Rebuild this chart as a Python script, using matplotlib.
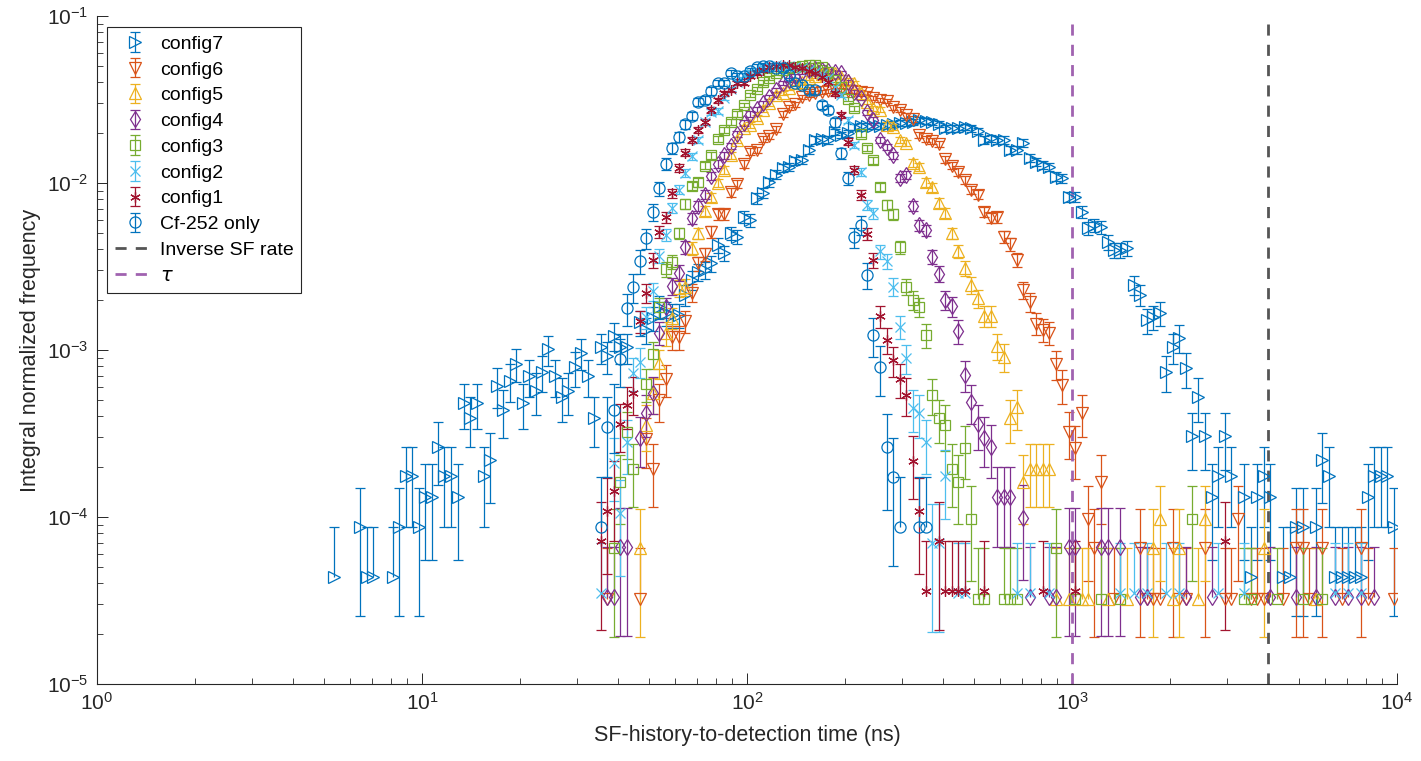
import matplotlib.pyplot as plt
import numpy as np

plt.rcParams['font.family'] = ['Liberation Sans', 'DejaVu Sans']

# (time in ns, integral normalized frequency), one pair per bin
config7 = [
    (5.37, 4.37e-5), (6.46, 8.74e-5), (6.76, 4.37e-5), (7.08, 4.37e-5), (8.13, 4.37e-5),
    (8.51, 8.74e-5), (8.91, 1.75e-4), (9.33, 1.75e-4), (9.77, 8.74e-5), (10.2, 1.31e-4),
    (10.7, 1.31e-4), (11.2, 2.62e-4), (11.7, 1.75e-4), (12.3, 1.75e-4), (12.9, 1.31e-4),
    (13.5, 4.81e-4), (14.1, 3.93e-4), (14.8, 4.81e-4), (15.5, 1.75e-4), (16.2, 2.19e-4),
    (17.0, 6.12e-4), (17.8, 4.37e-4), (18.6, 6.56e-4), (19.5, 8.3e-4), (20.4, 4.81e-4),
    (21.4, 7.0e-4), (22.4, 5.68e-4), (23.4, 7.43e-4), (24.5, 1.01e-3), (25.7, 7.0e-4),
    (26.9, 5.24e-4), (28.2, 5.68e-4), (29.5, 7.87e-4), (30.9, 9.6e-4), (32.4, 7.0e-4),
    (33.9, 3.93e-4), (35.5, 1.04e-3), (37.2, 9.2e-4), (38.9, 1.22e-3), (40.7, 1.04e-3),
    (42.7, 1.04e-3), (46.8, 1.47e-3), (49.0, 1.32e-3), (51.3, 1.56e-3), (53.7, 1.81e-3),
    (56.2, 1.67e-3), (58.9, 1.62e-3), (61.7, 1.62e-3), (64.6, 2.13e-3), (67.6, 2.62e-3),
    (70.8, 2.93e-3), (74.1, 3.01e-3), (77.6, 3.3e-3), (81.3, 4.25e-3), (85.1, 3.81e-3),
    (89.1, 5.02e-3), (93.3, 4.75e-3), (97.7, 6.25e-3), (102, 6.0e-3), (107, 8.13e-3),
    (112, 8.7e-3), (117, 1.01e-2), (123, 1.12e-2), (129, 1.23e-2), (135, 1.25e-2),
    (141, 1.36e-2), (148, 1.37e-2), (155, 1.58e-2), (162, 1.81e-2), (170, 1.83e-2),
    (178, 1.81e-2), (186, 2.02e-2), (195, 1.94e-2), (204, 1.99e-2), (214, 2.16e-2),
    (224, 2.19e-2), (234, 2.19e-2), (245, 2.19e-2), (257, 2.19e-2), (269, 2.22e-2),
    (282, 2.25e-2), (295, 2.29e-2), (309, 2.29e-2), (324, 2.32e-2), (339, 2.38e-2),
    (355, 2.35e-2), (372, 2.32e-2), (389, 2.25e-2), (407, 2.13e-2), (427, 2.13e-2),
    (447, 2.13e-2), (468, 2.16e-2), (490, 2.13e-2), (513, 2.05e-2), (537, 1.81e-2),
    (562, 1.86e-2), (589, 1.81e-2), (617, 1.81e-2), (646, 1.58e-2), (676, 1.58e-2),
    (708, 1.74e-2), (741, 1.41e-2), (776, 1.34e-2), (813, 1.28e-2), (851, 1.25e-2),
    (891, 1.09e-2), (933, 1.07e-2), (977, 8.25e-3), (1020, 8.25e-3), (1070, 6.7e-3),
    (1120, 5.38e-3), (1170, 5.61e-3), (1230, 5.46e-3), (1290, 4.43e-3), (1350, 3.97e-3),
    (1410, 3.97e-3), (1480, 4.08e-3), (1550, 2.45e-3), (1620, 2.13e-3), (1700, 1.51e-3),
    (1780, 1.58e-3), (1860, 1.67e-3), (1950, 7.38e-4), (2040, 1.04e-3), (2140, 1.18e-3),
    (2240, 7.8e-4), (2340, 3.06e-4), (2450, 5.24e-4), (2570, 3.06e-4), (2690, 1.31e-4),
    (2820, 1.75e-4), (2950, 3.06e-4), (3090, 1.75e-4), (3390, 1.31e-4), (3550, 4.37e-5),
    (3720, 1.31e-4), (3890, 1.75e-4), (4070, 1.31e-4), (4470, 4.37e-5), (4680, 4.37e-5),
    (4900, 8.74e-5), (5130, 8.74e-5), (5620, 8.74e-5), (5890, 2.19e-4), (6170, 1.75e-4),
    (6460, 4.37e-5), (6760, 4.37e-5), (7080, 4.37e-5), (7410, 4.37e-5), (7760, 4.37e-5),
    (8130, 1.31e-4), (8510, 1.75e-4), (8910, 1.75e-4), (9330, 1.75e-4), (9770, 8.74e-5),
]

config6 = [
    (37.2, 3.25e-5), (46.8, 3.25e-5), (49.0, 2.93e-4), (51.3, 1.95e-4), (53.7, 5.0e-4),
    (56.2, 6.7e-4), (58.9, 1.2e-3), (61.7, 1.2e-3), (64.6, 1.49e-3), (67.6, 2.2e-3),
    (70.8, 3.3e-3), (74.1, 3.75e-3), (77.6, 5.1e-3), (81.3, 6.5e-3), (85.1, 6.5e-3),
    (89.1, 8.8e-3), (93.3, 9.9e-3), (97.7, 1.3e-2), (102, 1.54e-2), (107, 1.58e-2),
    (112, 1.83e-2), (117, 1.91e-2), (123, 2.1e-2), (129, 2.59e-2), (135, 2.85e-2),
    (141, 2.96e-2), (148, 3.27e-2), (155, 3.36e-2), (162, 3.45e-2), (170, 3.5e-2),
    (178, 3.55e-2), (186, 3.6e-2), (195, 3.6e-2), (204, 3.55e-2), (214, 3.55e-2),
    (224, 3.5e-2), (234, 3.45e-2), (245, 3.23e-2), (257, 3.14e-2), (269, 3.1e-2),
    (282, 2.85e-2), (295, 2.74e-2), (309, 2.55e-2), (324, 2.42e-2), (339, 1.94e-2),
    (355, 1.83e-2), (372, 1.78e-2), (389, 1.71e-2), (407, 1.39e-2), (427, 1.27e-2),
    (447, 1.16e-2), (468, 1.04e-2), (490, 9.1e-3), (513, 8.5e-3), (537, 6.7e-3),
    (562, 6.2e-3), (589, 6.25e-3), (617, 4.75e-3), (646, 4.3e-3), (676, 3.46e-3),
    (708, 2.29e-3), (741, 1.94e-3), (776, 1.44e-3), (813, 1.32e-3), (851, 1.27e-3),
    (891, 8.2e-4), (933, 6.2e-4), (977, 3.25e-4), (1020, 2.6e-4), (1070, 4.2e-4),
    (1120, 9.75e-5), (1170, 6.5e-5), (1230, 1.63e-4), (1350, 3.25e-5), (1620, 6.5e-5),
    (1700, 3.25e-5), (1780, 3.25e-5), (1860, 3.25e-5), (2040, 6.5e-5), (2140, 3.25e-5),
    (2240, 3.25e-5), (2570, 6.5e-5), (2950, 3.25e-5), (3090, 3.25e-5), (3240, 9.75e-5),
    (3550, 3.25e-5), (3720, 3.25e-5), (3890, 3.25e-5), (4470, 3.25e-5), (4900, 6.5e-5),
    (5130, 6.5e-5), (5370, 3.25e-5), (5890, 6.5e-5), (6760, 3.25e-5), (7760, 6.5e-5),
    (8130, 3.25e-5), (9770, 3.25e-5),
]

config5 = [
    (46.8, 6.5e-5), (49.0, 3.58e-4), (51.3, 5.5e-4), (53.7, 8.4e-4), (56.2, 1.26e-3),
    (58.9, 1.56e-3), (61.7, 2.35e-3), (64.6, 2.38e-3), (67.6, 4.08e-3), (70.8, 5.0e-3),
    (74.1, 6.8e-3), (77.6, 8.25e-3), (81.3, 1.0e-2), (85.1, 1.2e-2), (89.1, 1.47e-2),
    (93.3, 1.81e-2), (97.7, 2.13e-2), (102, 2.22e-2), (107, 2.45e-2), (112, 2.74e-2),
    (117, 3.0e-2), (123, 3.36e-2), (129, 3.45e-2), (135, 3.7e-2), (141, 3.97e-2),
    (148, 4.0e-2), (155, 4.25e-2), (162, 4.37e-2), (170, 4.5e-2), (178, 4.56e-2),
    (186, 4.56e-2), (195, 4.3e-2), (204, 4.13e-2), (214, 3.97e-2), (224, 3.45e-2),
    (234, 3.06e-2), (245, 2.8e-2), (257, 2.74e-2), (269, 2.22e-2), (282, 2.16e-2),
    (295, 1.81e-2), (309, 1.74e-2), (324, 1.32e-2), (339, 1.25e-2), (355, 1.01e-2),
    (372, 9.4e-3), (389, 7.6e-3), (407, 6.6e-3), (427, 5.0e-3), (447, 3.9e-3),
    (468, 3.1e-3), (490, 2.45e-3), (513, 2.04e-3), (537, 1.6e-3), (562, 1.6e-3),
    (589, 1.06e-3), (617, 9.1e-4), (646, 3.9e-4), (676, 4.55e-4), (708, 1.63e-4),
    (741, 1.95e-4), (776, 1.95e-4), (813, 1.95e-4), (851, 1.95e-4), (891, 3.25e-5),
    (977, 3.25e-5), (1070, 3.25e-5), (1120, 3.25e-5), (1290, 3.25e-5), (1480, 3.25e-5),
    (1780, 6.5e-5), (1860, 9.75e-5), (2040, 3.25e-5), (2140, 6.5e-5), (2450, 3.25e-5),
    (2570, 9.75e-5), (3890, 6.5e-5), (5620, 3.25e-5),
]

config4 = [
    (37.2, 3.3e-5), (38.9, 3.3e-5), (40.7, 6.6e-5), (42.7, 6.6e-5), (46.8, 2.97e-4),
    (49.0, 4.2e-4), (51.3, 5.5e-4), (53.7, 1.27e-3), (56.2, 1.8e-3), (58.9, 2.42e-3),
    (61.7, 2.9e-3), (64.6, 4.15e-3), (67.6, 6.17e-3), (70.8, 7.3e-3), (74.1, 8.5e-3),
    (77.6, 1.1e-2), (81.3, 1.3e-2), (85.1, 1.47e-2), (89.1, 1.67e-2), (93.3, 1.97e-2),
    (97.7, 2.29e-2), (102, 2.59e-2), (107, 2.77e-2), (112, 3.0e-2), (117, 3.27e-2),
    (123, 3.6e-2), (129, 3.97e-2), (135, 4.13e-2), (141, 4.37e-2), (148, 4.62e-2),
    (155, 4.75e-2), (162, 4.8e-2), (170, 4.75e-2), (178, 4.68e-2), (186, 4.62e-2),
    (195, 4.56e-2), (204, 4.0e-2), (214, 3.5e-2), (224, 3.23e-2), (234, 2.66e-2),
    (245, 2.38e-2), (257, 1.81e-2), (269, 1.64e-2), (282, 1.47e-2), (295, 1.07e-2),
    (309, 1.12e-2), (324, 7.3e-3), (339, 5.6e-3), (355, 5.2e-3), (372, 3.6e-3),
    (389, 2.87e-3), (407, 2.0e-3), (427, 1.83e-3), (447, 1.3e-3), (468, 7.1e-4),
    (490, 4.9e-4), (513, 3.6e-4), (537, 2.97e-4), (562, 2.64e-4), (589, 1.32e-4),
    (617, 1.32e-4), (646, 1.32e-4), (708, 9.9e-5), (741, 3.3e-5), (851, 3.3e-5),
    (891, 3.3e-5), (977, 6.6e-5), (1020, 6.6e-5), (1230, 6.6e-5), (1290, 6.6e-5),
    (1410, 6.6e-5), (1620, 3.3e-5), (1700, 3.3e-5), (2240, 3.3e-5), (2690, 3.3e-5),
    (4070, 3.3e-5), (4900, 3.3e-5), (5620, 3.3e-5), (6460, 3.3e-5), (7080, 3.3e-5),
    (7760, 3.3e-5), (8510, 3.3e-5),
]

config3 = [
    (38.9, 6.5e-5), (40.7, 1.63e-4), (42.7, 3.25e-4), (44.7, 1.95e-4), (49.0, 6.3e-4),
    (51.3, 9.4e-4), (53.7, 1.8e-3), (56.2, 3.05e-3), (58.9, 3.37e-3), (61.7, 5.0e-3),
    (64.6, 7.5e-3), (67.6, 9.6e-3), (70.8, 1.01e-2), (74.1, 1.27e-2), (77.6, 1.47e-2),
    (81.3, 1.83e-2), (85.1, 2.08e-2), (89.1, 2.32e-2), (93.3, 2.59e-2), (97.7, 2.93e-2),
    (102, 3.36e-2), (107, 3.65e-2), (112, 4.0e-2), (117, 4.25e-2), (123, 4.56e-2),
    (129, 4.75e-2), (135, 4.88e-2), (141, 4.95e-2), (148, 5.0e-2), (155, 5.1e-2),
    (162, 5.1e-2), (170, 4.95e-2), (178, 4.62e-2), (186, 4.13e-2), (195, 3.75e-2),
    (204, 3.18e-2), (214, 2.8e-2), (224, 1.97e-2), (234, 1.62e-2), (245, 1.37e-2),
    (257, 9.5e-3), (269, 7.4e-3), (282, 6.5e-3), (295, 4.15e-3), (309, 2.4e-3),
    (324, 2.0e-3), (339, 1.81e-3), (355, 1.23e-3), (372, 5.4e-4), (389, 3.9e-4),
    (407, 3.58e-4), (427, 1.95e-4), (447, 1.63e-4), (468, 2.6e-4), (490, 9.75e-5),
    (513, 3.25e-5), (537, 3.25e-5), (617, 3.25e-5), (646, 3.25e-5), (676, 3.25e-5),
    (891, 6.5e-5), (1020, 3.25e-5), (1230, 3.25e-5), (1410, 3.25e-5), (2340, 9.75e-5),
    (3390, 3.25e-5), (3550, 3.25e-5), (4270, 3.25e-5), (5130, 3.25e-5), (5890, 3.25e-5),
]

config2 = [
    (35.5, 3.5e-5), (38.9, 2.1e-4), (40.7, 1.05e-4), (42.7, 2.8e-4), (44.7, 7.3e-4),
    (46.8, 8.5e-4), (49.0, 1.58e-3), (51.3, 2.25e-3), (53.7, 3.66e-3), (56.2, 4.9e-3),
    (58.9, 7.1e-3), (61.7, 9.1e-3), (64.6, 1.15e-2), (67.6, 1.45e-2), (70.8, 1.81e-2),
    (74.1, 2.32e-2), (77.6, 2.66e-2), (81.3, 2.7e-2), (85.1, 3.23e-2), (89.1, 3.65e-2),
    (93.3, 4.0e-2), (97.7, 4.43e-2), (102, 4.62e-2), (107, 4.75e-2), (112, 4.88e-2),
    (117, 5.0e-2), (123, 5.1e-2), (129, 5.0e-2), (135, 5.0e-2), (141, 4.95e-2),
    (148, 4.88e-2), (155, 4.75e-2), (162, 4.62e-2), (170, 4.5e-2), (178, 4.25e-2),
    (186, 3.75e-2), (195, 3.36e-2), (204, 2.38e-2), (214, 1.69e-2), (224, 1.17e-2),
    (234, 7.4e-3), (245, 6.6e-3), (257, 3.9e-3), (269, 3.4e-3), (282, 2.4e-3),
    (295, 1.38e-3), (309, 8.9e-4), (324, 4.5e-4), (339, 4.2e-4), (355, 2.8e-4),
    (372, 7.0e-5), (389, 7.0e-5), (407, 1.75e-4), (447, 3.5e-5), (468, 3.5e-5),
    (676, 3.5e-5), (741, 3.5e-5), (851, 3.5e-5), (1410, 3.5e-5), (1550, 3.5e-5),
    (1700, 3.5e-5), (1950, 3.5e-5), (2140, 3.5e-5), (2820, 3.5e-5), (3390, 3.5e-5),
    (6460, 3.5e-5), (7080, 3.5e-5), (7760, 3.5e-5),
]

config1 = [
    (35.5, 7.2e-5), (37.2, 1.08e-4), (38.9, 1.44e-4), (40.7, 3.6e-4), (42.7, 4.68e-4),
    (44.7, 5.5e-4), (46.8, 1.49e-3), (49.0, 2.2e-3), (51.3, 3.46e-3), (53.7, 5.1e-3),
    (56.2, 6.25e-3), (58.9, 8.7e-3), (61.7, 1.23e-2), (64.6, 1.52e-2), (67.6, 1.81e-2),
    (70.8, 2.08e-2), (74.1, 2.32e-2), (77.6, 2.74e-2), (81.3, 3.14e-2), (85.1, 3.45e-2),
    (89.1, 3.6e-2), (93.3, 3.97e-2), (97.7, 3.97e-2), (102, 4.37e-2), (107, 4.56e-2),
    (112, 4.75e-2), (117, 4.95e-2), (123, 5.0e-2), (129, 5.1e-2), (135, 5.1e-2),
    (141, 4.95e-2), (148, 4.88e-2), (155, 4.68e-2), (162, 4.56e-2), (170, 4.3e-2),
    (178, 4.0e-2), (186, 3.45e-2), (195, 2.55e-2), (204, 1.77e-2), (214, 1.2e-2),
    (224, 8.5e-3), (234, 4.96e-3), (245, 3.46e-3), (257, 1.6e-3), (269, 1.15e-3),
    (282, 8.7e-4), (295, 6.7e-4), (309, 5.4e-4), (324, 2.16e-4), (339, 1.08e-4),
    (355, 3.6e-5), (389, 7.2e-5), (407, 3.6e-5), (427, 3.6e-5), (447, 3.6e-5),
    (468, 3.6e-5), (537, 3.6e-5), (813, 3.6e-5), (1020, 3.6e-5), (2950, 7.2e-5),
]

cf252 = [
    (35.5, 8.7e-5), (37.2, 3.48e-4), (38.9, 4.35e-4), (40.7, 8.8e-4), (42.7, 1.78e-3),
    (44.7, 2.38e-3), (46.8, 3.4e-3), (49.0, 4.66e-3), (51.3, 6.7e-3), (53.7, 9.3e-3),
    (56.2, 1.3e-2), (58.9, 1.62e-2), (61.7, 1.88e-2), (64.6, 2.25e-2), (67.6, 2.52e-2),
    (70.8, 3.06e-2), (74.1, 3.14e-2), (77.6, 3.56e-2), (81.3, 3.97e-2), (85.1, 3.97e-2),
    (89.1, 4.56e-2), (93.3, 4.37e-2), (97.7, 4.37e-2), (102, 4.68e-2), (107, 4.95e-2),
    (112, 5.0e-2), (117, 5.0e-2), (123, 4.9e-2), (129, 4.88e-2), (135, 4.43e-2),
    (141, 3.97e-2), (148, 3.86e-2), (155, 3.6e-2), (162, 3.6e-2), (170, 2.93e-2),
    (178, 2.74e-2), (186, 2.32e-2), (195, 1.51e-2), (204, 1.07e-2), (214, 4.75e-3),
    (224, 5.61e-3), (234, 2.81e-3), (245, 1.23e-3), (257, 7.9e-4), (269, 2.61e-4),
    (282, 1.74e-4), (295, 8.7e-5), (339, 8.7e-5), (355, 8.7e-5),
]

# value of a single count in each histogram (lowest occupied level)
unit_config7 = 4.37e-5
unit_config6 = 3.25e-5
unit_config5 = 3.25e-5
unit_config4 = 3.3e-5
unit_config3 = 3.25e-5
unit_config2 = 3.5e-5
unit_config1 = 3.6e-5
unit_cf252 = 8.7e-5

tau_ns = 1000
inverse_sf_rate_ns = 4000

fig = plt.figure(figsize=(14.21, 7.61), dpi=100)
ax = fig.add_axes([97 / 1421, 1 - 684 / 761, 1300 / 1421, 668 / 761])


def draw(data, unit, color, marker, ms, label):
    t = np.array([p[0] for p in data])
    y = np.array([p[1] for p in data])
    sigma = np.sqrt(y * unit)  # Poisson error of the counts in the bin
    lower = np.where(y > 1.5 * unit, sigma, 0.0)
    eb = ax.errorbar(t, y, yerr=[lower, sigma], fmt='', marker=marker, ms=ms, mfc='none',
                     mec=color, mew=0.9, color=color, ecolor=color, elinewidth=0.9,
                     capsize=3.8, capthick=0.9, linestyle='none', label=label)
    # single counts have no lower bar on a log axis
    lo_cap = eb.lines[1][0]
    xs, ys = lo_cap.get_data()
    keep = lower > 0
    lo_cap.set_data(np.asarray(xs)[keep], np.asarray(ys)[keep])
    return eb


handles = [
    draw(config7, unit_config7, '#0072BD', '>', 8, 'config7'),
    draw(config6, unit_config6, '#D95319', 'v', 8, 'config6'),
    draw(config5, unit_config5, '#EDB120', '^', 8, 'config5'),
    draw(config4, unit_config4, '#7E2F8E', 'd', 8.5, 'config4'),
    draw(config3, unit_config3, '#77AC30', 's', 6.5, 'config3'),
    draw(config2, unit_config2, '#4DBEEE', 'x', 6.5, 'config2'),
    draw(config1, unit_config1, '#A2142F', (6, 2, 0), 7.5, 'config1'),
    draw(cf252, unit_cf252, '#0072BD', 'o', 8, 'Cf-252 only'),
]
l1 = ax.axvline(inverse_sf_rate_ns, color='#555555', lw=2.0, ls=(0, (4, 3.3)),
                label='Inverse SF rate')
l2 = ax.axvline(tau_ns, color='#A062B0', lw=2.0, ls=(0, (4, 3.3)), label=r'$\tau$')
handles += [l1, l2]

ax.set_xscale('log')
ax.set_yscale('log')
ax.set_xlim(1, 1e4)
ax.set_ylim(1e-5, 1e-1)
for side in ['top', 'right']:
    ax.spines[side].set_visible(False)
for side in ['left', 'bottom']:
    ax.spines[side].set_color('#262626')
    ax.spines[side].set_linewidth(0.8)
ax.tick_params(which='both', direction='in', colors='#262626', labelsize=15, pad=6)
ax.tick_params(which='major', length=8, width=0.7)
ax.tick_params(which='minor', length=4.5, width=0.6)

ax.set_xlabel('SF-history-to-detection time (ns)', fontsize=15.5, color='#262626', labelpad=8)
ax.set_ylabel('Integral normalized frequency', fontsize=15.5, color='#262626', labelpad=4)

leg = ax.legend(handles=handles, loc='upper left', bbox_to_anchor=(0.008, 0.983),
                borderaxespad=0, fontsize=14, frameon=True, fancybox=False,
                edgecolor='#262626', framealpha=1, handlelength=2.0,
                handletextpad=0.3, labelspacing=0.42, borderpad=0.4)
leg.get_frame().set_linewidth(0.8)

fig.savefig('out.png', dpi=100)
